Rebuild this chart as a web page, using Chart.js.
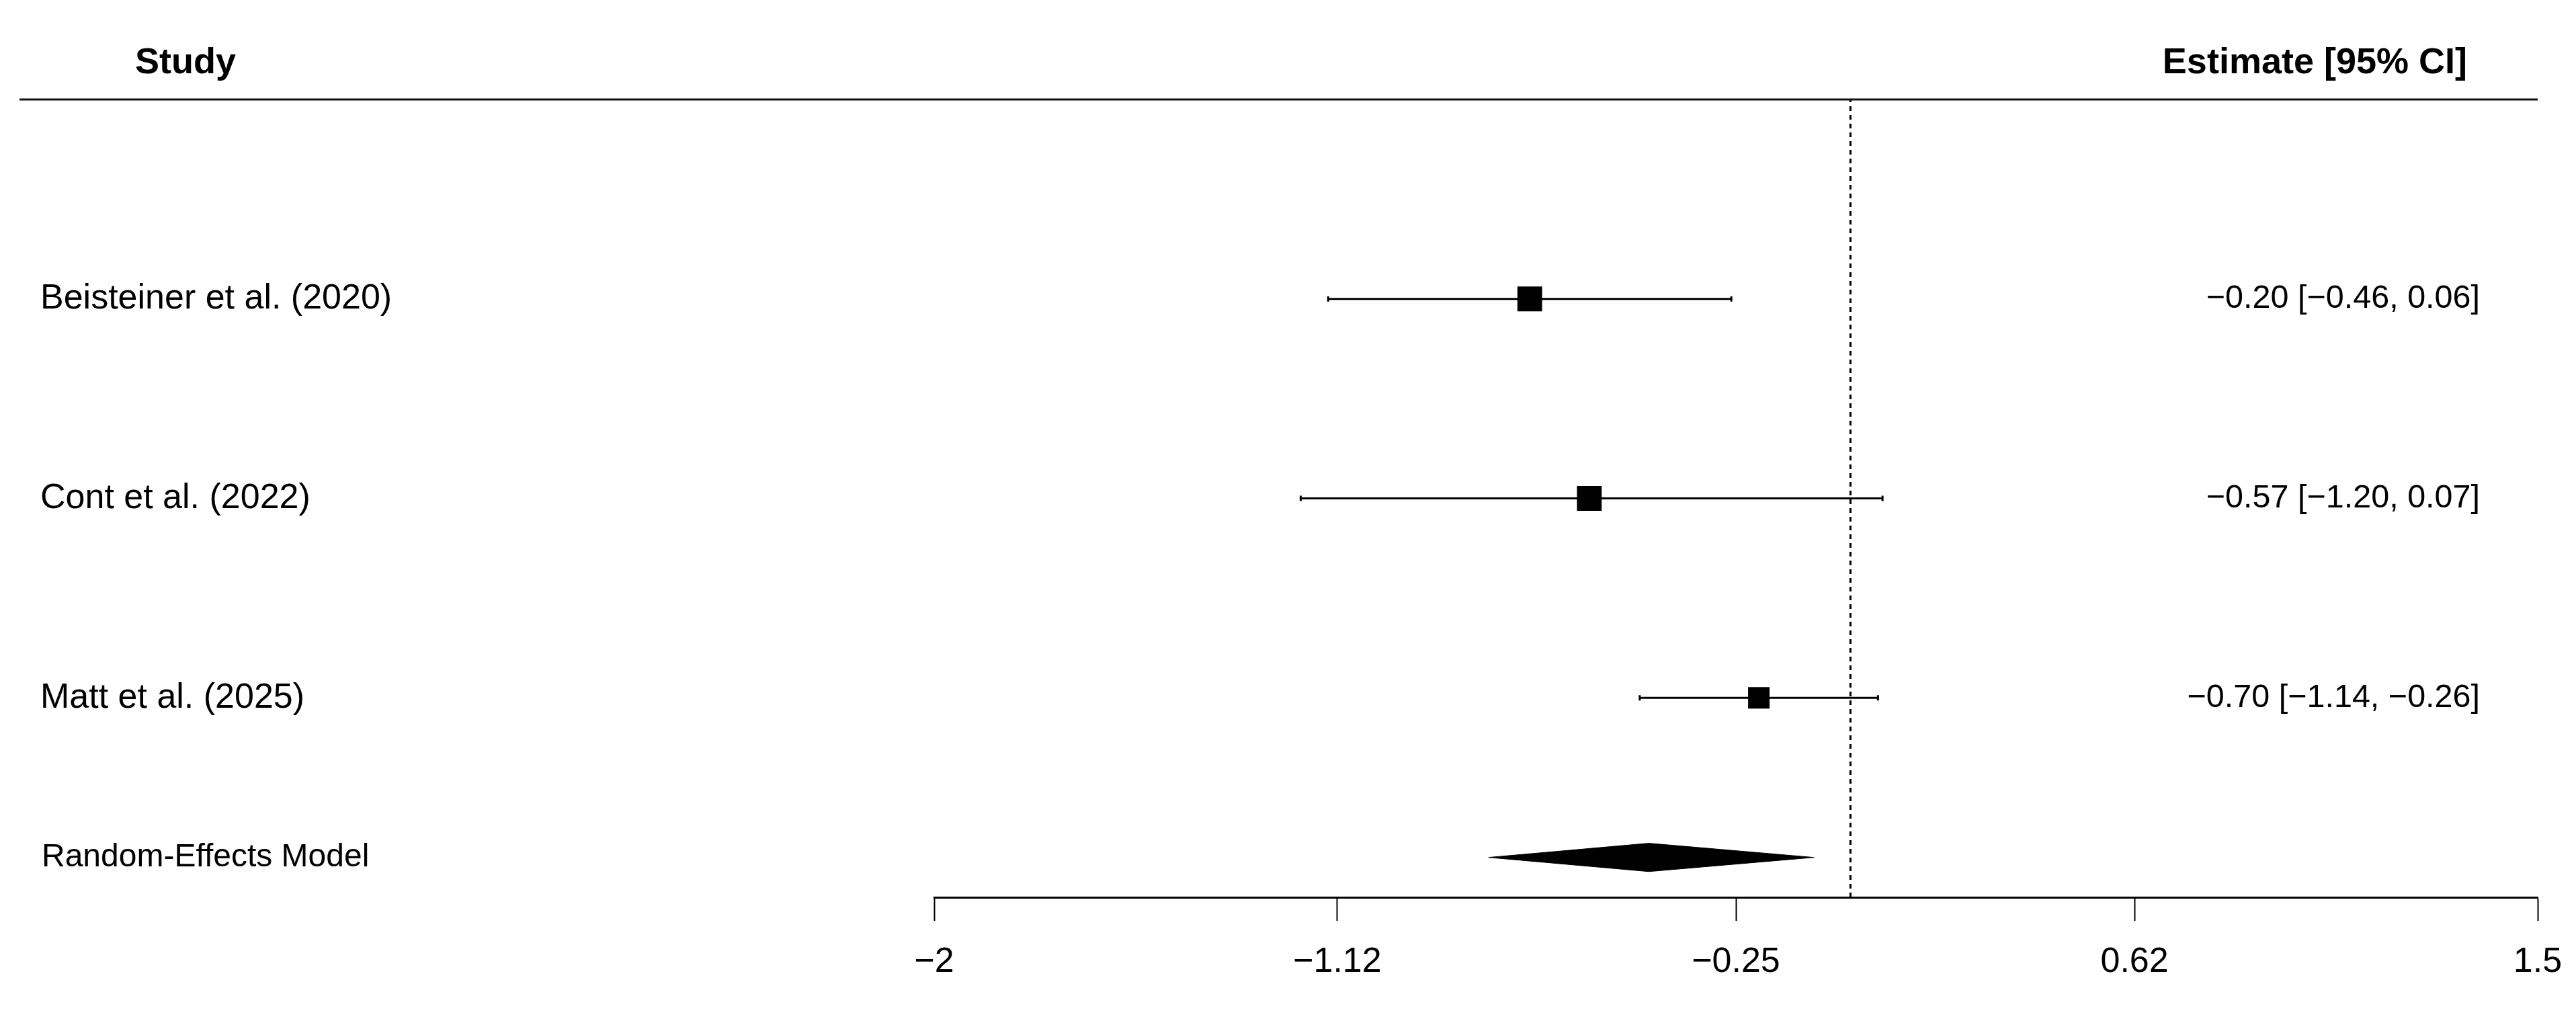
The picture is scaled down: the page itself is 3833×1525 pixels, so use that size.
<!DOCTYPE html>
<html>
<head>
<meta charset="utf-8">
<title>Forest plot</title>
<script src="https://cdn.jsdelivr.net/npm/chart.js@4.4.1/dist/chart.umd.min.js"></script>
<style>
    html, body { margin: 0; padding: 0; background: #fff; overflow: hidden; }
    canvas { display: block; }
</style>
</head>
<body>
<canvas id="forestChart" width="3833" height="1525"></canvas>
<script>
// Study labels, top to bottom, with the estimate column printed next to them
const studies = ['Beisteiner et al. (2020)', 'Cont et al. (2022)', 'Matt et al. (2025)'];
const estimates = [-0.20, -0.57, -0.70];
const ciLower = [-0.46, -1.20, -1.14];
const ciUpper = [0.06, 0.07, -0.26];

// Random-effects summary
const pooledLabel = 'Random-Effects Model';
const pooledEstimate = -0.44;
const pooledCI = [-0.79, -0.08];

// x axis ticks
const tickValues = [-2, -1.12, -0.25, 0.62, 1.5];
const tickLabels = ['\u22122', '\u22121.12', '\u22120.25', '0.62', '1.5'];

const FONT = '"Liberation Sans", Arial, sans-serif';

// rows on the hidden y scale (the marks in the source figure are stacked
// in the opposite order to the labels, so keep both)
const labelRows = [3, 2, 1];
const markRows = [1, 2, 3];
const pooledRow = 0.2;

function fmt(v) {
    return v.toFixed(2).replace('-', '\u2212');
}

const ciDatasets = estimates.map((est, i) => ({
    data: [{ x: ciLower[i], y: markRows[i] }, { x: ciUpper[i], y: markRows[i] }],
    showLine: true,
    borderColor: '#000',
    borderWidth: 3,
    pointRadius: 0,
    clip: false
}));

const capPoints = [];
estimates.forEach((est, i) => {
    capPoints.push({ x: ciLower[i], y: markRows[i] });
    capPoints.push({ x: ciUpper[i], y: markRows[i] });
});

const forestText = {
    id: 'forestText',
    afterDraw(chart) {
        const { ctx, scales: { x, y } } = chart;
        ctx.save();
        ctx.fillStyle = '#000';
        ctx.textBaseline = 'middle';

        // headers
        ctx.font = 'bold 54px ' + FONT;
        ctx.textAlign = 'left';
        ctx.fillText('Study', 201, 94);
        ctx.textAlign = 'right';
        ctx.fillText('Estimate [95% CI]', 3671, 94);

        // rule under the headers
        const top = y.getPixelForValue(4);
        ctx.strokeStyle = '#111';
        ctx.lineWidth = 3;
        ctx.beginPath();
        ctx.moveTo(29, top);
        ctx.lineTo(x.getPixelForValue(1.5), top);
        ctx.stroke();

        // study names
        ctx.font = '52px ' + FONT;
        ctx.textAlign = 'left';
        studies.forEach((name, i) => {
            ctx.fillText(name, 60, y.getPixelForValue(labelRows[i]));
        });
        ctx.font = '48px ' + FONT;
        ctx.fillText(pooledLabel, 62, y.getPixelForValue(pooledRow));

        // estimate column
        ctx.font = '48.5px ' + FONT;
        ctx.textAlign = 'right';
        studies.forEach((name, i) => {
            const txt = fmt(estimates[i]) + ' [' + fmt(ciLower[i]) + ', ' + fmt(ciUpper[i]) + ']';
            ctx.fillText(txt, 3690, y.getPixelForValue(labelRows[i]));
        });
        ctx.restore();
    }
};

const ctx = document.getElementById('forestChart').getContext('2d');
const forestChart = new Chart(ctx, {
    type: 'scatter',
    data: {
        datasets: [
            // reference line at zero
            {
                data: [{ x: 0, y: 0 }, { x: 0, y: 4 }],
                showLine: true,
                borderColor: '#000',
                borderWidth: 3,
                borderDash: [7, 6],
                pointRadius: 0,
                clip: false
            },
            ...ciDatasets,
            // small end caps on the intervals
            {
                data: capPoints,
                pointStyle: 'line',
                rotation: 90,
                pointRadius: 4,
                borderColor: '#000',
                borderWidth: 3,
                clip: false
            },
            // study squares
            {
                data: estimates.map((est, i) => ({ x: est, y: markRows[i] })),
                pointStyle: 'rect',
                pointRadius: [22.6, 26, 26],
                backgroundColor: '#000',
                borderWidth: 0,
                clip: false
            },
            // summary diamond
            {
                data: [
                    { x: pooledCI[0], y: pooledRow },
                    { x: pooledEstimate, y: pooledRow + 0.071 },
                    { x: pooledCI[1], y: pooledRow },
                    { x: pooledEstimate, y: pooledRow - 0.071 },
                    { x: pooledCI[0], y: pooledRow }
                ],
                showLine: true,
                fill: 'shape',
                backgroundColor: '#000',
                borderColor: '#000',
                borderWidth: 1,
                pointRadius: 0,
                clip: false
            }
        ]
    },
    options: {
        responsive: false,
        devicePixelRatio: 1,
        animation: false,
        layout: {
            padding: { left: 1390, right: 57, top: 148, bottom: 0 }
        },
        plugins: {
            legend: { display: false },
            tooltip: { enabled: false }
        },
        scales: {
            x: {
                type: 'linear',
                position: 'bottom',
                min: -2,
                max: 1.5,
                afterBuildTicks: scale => {
                    scale.ticks = tickValues.map(v => ({ value: v }));
                },
                afterFit: scale => {
                    scale.height = 190;
                    scale.paddingLeft = 0;
                    scale.paddingRight = 0;
                },
                ticks: {
                    autoSkip: false,
                    maxRotation: 0,
                    padding: 30,
                    color: '#000',
                    font: { family: FONT, size: 52 },
                    callback: (value, index) => tickLabels[index]
                },
                grid: {
                    display: true,
                    drawOnChartArea: false,
                    drawTicks: true,
                    tickLength: 35,
                    tickWidth: 2,
                    tickColor: '#000'
                },
                border: {
                    display: true,
                    color: '#000',
                    width: 3
                }
            },
            y: {
                type: 'linear',
                display: false,
                min: 0,
                max: 4
            }
        }
    },
    plugins: [forestText]
});
</script>
</body>
</html>
